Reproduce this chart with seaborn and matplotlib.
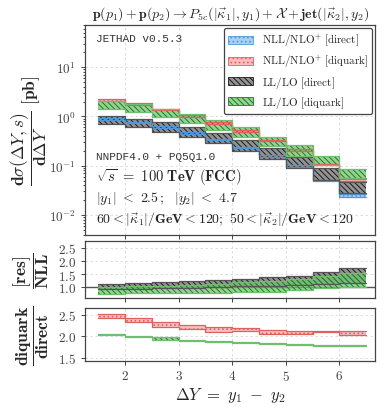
import numpy as np
import pandas as pd
import matplotlib
matplotlib.use("Agg")
import matplotlib.pyplot as plt
import seaborn as sns
from matplotlib.patches import Patch
from matplotlib.ticker import FixedLocator, FixedFormatter

# --- Data (rapidity bins and band limits) ---
dy_edges = [1.5, 2.0, 2.5, 3.0, 3.5, 4.0, 4.5, 5.0, 5.5, 6.0, 6.5]

# main panel: d sigma / d DeltaY [pb]
nll_dir_lo = [0.85, 0.72, 0.58, 0.44, 0.325, 0.225, 0.148, 0.094, 0.048, 0.023]
nll_dir_hi = [0.92, 0.78, 0.63, 0.48, 0.355, 0.245, 0.162, 0.102, 0.052, 0.027]
nll_diq_lo = [2.07, 1.72, 1.33, 0.98, 0.70, 0.485, 0.314, 0.198, 0.101, 0.049]
nll_diq_hi = [2.24, 1.86, 1.43, 1.06, 0.76, 0.525, 0.338, 0.214, 0.109, 0.054]
ll_dir_lo = [0.70, 0.61, 0.49, 0.39, 0.285, 0.20, 0.135, 0.091, 0.052, 0.028]
ll_dir_hi = [1.00, 0.90, 0.77, 0.60, 0.46, 0.33, 0.23, 0.15, 0.091, 0.047]
ll_diq_lo = [1.41, 1.21, 0.95, 0.73, 0.53, 0.39, 0.25, 0.158, 0.103, 0.055]
ll_diq_hi = [2.02, 1.79, 1.41, 1.12, 0.83, 0.60, 0.39, 0.26, 0.158, 0.085]

# middle panel: LL / NLL
res_dir_lo = [0.93, 0.95, 0.97, 0.99, 1.01, 1.03, 1.06, 1.09, 1.13, 1.18]
res_dir_hi = [1.13, 1.16, 1.20, 1.25, 1.29, 1.32, 1.38, 1.44, 1.56, 1.71]
res_diq_lo = [0.76, 0.77, 0.78, 0.80, 0.80, 0.81, 0.84, 0.88, 0.98, 1.00]
res_diq_hi = [1.00, 1.03, 1.06, 1.09, 1.13, 1.19, 1.25, 1.30, 1.41, 1.53]

# bottom panel: diquark / direct
q_nll_lo = [2.41, 2.32, 2.22, 2.16, 2.10, 2.12, 2.06, 2.06, 2.09, 2.03]
q_nll_hi = [2.52, 2.43, 2.33, 2.26, 2.20, 2.18, 2.14, 2.13, 2.12, 2.13]
q_ll_lo = [2.03, 1.97, 1.91, 1.88, 1.86, 1.84, 1.81, 1.79, 1.78, 1.78]
q_ll_hi = [2.05, 2.00, 1.97, 1.90, 1.88, 1.86, 1.84, 1.81, 1.80, 1.79]

x_ticks = [2, 3, 4, 5, 6]

# --- Style ---
sns.set_theme(style="ticks")
plt.rcParams.update({
    "font.family": ["DejaVu Serif"],
    "mathtext.fontset": "cm",
    "hatch.linewidth": 0.7,
    "axes.edgecolor": "#444444",
    "axes.linewidth": 0.9,
    "xtick.color": "#444444",
    "ytick.color": "#444444",
})

BLUE = "#4f97d6"
RED = "#e06060"
BLACK = "#1a1a1a"
GREEN = "#1f7a1f"

styles = {
    "nll_dir": dict(face=(0.62, 0.80, 0.95, 0.9), edge=BLUE, hatch="....", line=BLUE),
    "nll_diq": dict(face=(0.97, 0.72, 0.72, 0.9), edge=RED, hatch="....", line=RED),
    "ll_dir": dict(face=(0.50, 0.50, 0.50, 0.85), edge=BLACK, hatch="\\\\\\\\\\\\", line="#555555"),
    "ll_diq": dict(face=(0.45, 0.76, 0.45, 0.75), edge=GREEN, hatch="\\\\\\\\\\\\", line="#6fbf6f"),
}


def draw_band(ax, lo, hi, key):
    st = styles[key]
    lo_s = list(lo) + [lo[-1]]
    hi_s = list(hi) + [hi[-1]]
    ax.fill_between(dy_edges, lo_s, hi_s, step="post", facecolor=st["face"],
                    edgecolor=st["edge"], hatch=st["hatch"], linewidth=0.0)
    df = pd.DataFrame({"x": dy_edges, "lo": lo_s, "hi": hi_s})
    for col in ["lo", "hi"]:
        sns.lineplot(data=df, x="x", y=col, ax=ax, drawstyle="steps-post",
                     color=st["line"], linewidth=0.9, legend=False)


def bold_fmt(vals, fmt):
    return [r"$\mathbf{" + fmt(v) + "}$" for v in vals]


fig = plt.figure(figsize=(3.84, 4.10), dpi=100)
ax0 = fig.add_axes([0.221, 0.424, 0.756, 0.513])
ax1 = fig.add_axes([0.221, 0.271, 0.756, 0.139])
ax2 = fig.add_axes([0.221, 0.117, 0.756, 0.129])

# main panel
draw_band(ax0, nll_dir_lo, nll_dir_hi, "nll_dir")
draw_band(ax0, nll_diq_lo, nll_diq_hi, "nll_diq")
draw_band(ax0, ll_dir_lo, ll_dir_hi, "ll_dir")
draw_band(ax0, ll_diq_lo, ll_diq_hi, "ll_diq")
ax0.set_yscale("log")
ax0.set_ylim(3.9e-3, 72)
y_major = [1e-2, 1e-1, 1e0, 1e1]
ax0.yaxis.set_major_locator(FixedLocator(y_major))
ax0.yaxis.set_major_formatter(FixedFormatter(
    [r"$\mathbf{10^{-2}}$", r"$\mathbf{10^{-1}}$", r"$\mathbf{10^{0}}$", r"$\mathbf{10^{1}}$"]))

# middle panel
ax1.axhline(1.0, color="#555555", linewidth=1.0, zorder=1)
draw_band(ax1, res_dir_lo, res_dir_hi, "ll_dir")
draw_band(ax1, res_diq_lo, res_diq_hi, "ll_diq")
ax1.set_ylim(0.6, 2.75)
r1_ticks = [1.0, 1.5, 2.0, 2.5]
ax1.yaxis.set_major_locator(FixedLocator(r1_ticks))
ax1.yaxis.set_major_formatter(FixedFormatter(bold_fmt(r1_ticks, lambda v: f"{v:.1f}")))

# bottom panel
draw_band(ax2, q_nll_lo, q_nll_hi, "nll_diq")
draw_band(ax2, q_ll_lo, q_ll_hi, "ll_diq")
ax2.set_ylim(1.42, 2.65)
r2_ticks = [1.5, 2.0, 2.5]
ax2.yaxis.set_major_locator(FixedLocator(r2_ticks))
ax2.yaxis.set_major_formatter(FixedFormatter(bold_fmt(r2_ticks, lambda v: f"{v:.1f}")))

for ax in [ax0, ax1, ax2]:
    ax.set_xlim(1.25, 6.67)
    ax.xaxis.set_major_locator(FixedLocator(x_ticks))
    ax.grid(True, which="major", linestyle=(0, (3, 3)), color="#d8d8d8", linewidth=0.6)
    ax.set_axisbelow(True)
    ax.tick_params(axis="both", which="both", labelsize=9.5, length=3, width=0.7)
    ax.tick_params(axis="y", which="minor", length=1.8)
    ax.set_xlabel("")
    ax.set_ylabel("")
    for s in ax.spines.values():
        s.set_visible(True)

ax0.tick_params(axis="x", labelbottom=False)
ax1.tick_params(axis="x", labelbottom=False)
ax2.tick_params(axis="x", pad=3)
ax2.xaxis.set_major_formatter(FixedFormatter(bold_fmt(x_ticks, lambda v: str(v))))

# labels
ax0.set_ylabel(r"$\dfrac{\mathbf{d}\sigma(\Delta Y,s)}{\mathbf{d}\Delta Y}$ $\mathbf{[pb]}$",
               fontsize=12.5)
ax1.set_ylabel(r"$\dfrac{\mathbf{[res]}}{\mathbf{NLL}}$", fontsize=12.5)
ax2.set_ylabel(r"$\dfrac{\mathbf{diquark}}{\mathbf{direct}}$", fontsize=12.5)
ax0.yaxis.set_label_coords(-0.125, 0.5)
ax1.yaxis.set_label_coords(-0.115, 0.5)
ax2.yaxis.set_label_coords(-0.115, 0.5)
fig.text(0.6, 0.035, r"$\mathbf{\Delta} Y \mathbf{\ =\ } y_1 \mathbf{\ -\ } y_2$",
         ha="center", va="center", fontsize=12)

fig.text(0.6, 0.966,
         r"$\mathbf{p}(p_1) + \mathbf{p}(p_2) \rightarrow P_{5c}(|\vec{\kappa}_1|, y_1)"
         r" + \mathcal{X} + \mathbf{jet}(|\vec{\kappa}_2|, y_2)$",
         ha="center", va="center", fontsize=10)

mono = "Liberation Mono"
ax0.text(0.04, 0.938, "JETHAD v0.5.3", transform=ax0.transAxes, fontsize=8,
         family=mono, va="center", color="#333333")
ax0.text(0.04, 0.378, "NNPDF4.0 + PQ5Q1.0", transform=ax0.transAxes, fontsize=8,
         family=mono, va="center", color="#333333")
ax0.text(0.04, 0.278, r"$\sqrt{s}\mathbf{\ =\ 100\ TeV\ (FCC)}$", transform=ax0.transAxes,
         fontsize=10.5, va="center")
ax0.text(0.04, 0.177, r"$|y_1| \mathbf{\ <\ 2.5\,;}\ \ |y_2| \mathbf{\ <\ 4.7}$",
         transform=ax0.transAxes, fontsize=10, va="center")
ax0.text(0.04, 0.081,
         r"$\mathbf{60} < |\vec{\kappa}_1|\mathbf{/GeV} < \mathbf{120;}\ \mathbf{50} < "
         r"|\vec{\kappa}_2|\mathbf{/GeV} < \mathbf{120}$",
         transform=ax0.transAxes, fontsize=10, va="center")

handles = [
    Patch(facecolor=styles[k]["face"], edgecolor=styles[k]["edge"], hatch=styles[k]["hatch"],
          linewidth=0.6)
    for k in ["nll_dir", "nll_diq", "ll_dir", "ll_diq"]
]
labels = [r"$\mathrm{NLL/NLO^{+}\ [direct]}$", r"$\mathrm{NLL/NLO^{+}\ [diquark]}$",
          r"$\mathrm{LL/LO\ [direct]}$", r"$\mathrm{LL/LO\ [diquark]}$"]
leg = ax0.legend(handles, labels, loc="upper right", fontsize=8, frameon=True,
                 fancybox=True, edgecolor="#444444", framealpha=1.0,
                 handlelength=2.2, handleheight=0.8, labelspacing=0.35,
                 borderaxespad=0.25, handletextpad=0.8, borderpad=0.4)
leg.get_frame().set_linewidth(0.9)

fig.savefig("out.png", dpi=100)
